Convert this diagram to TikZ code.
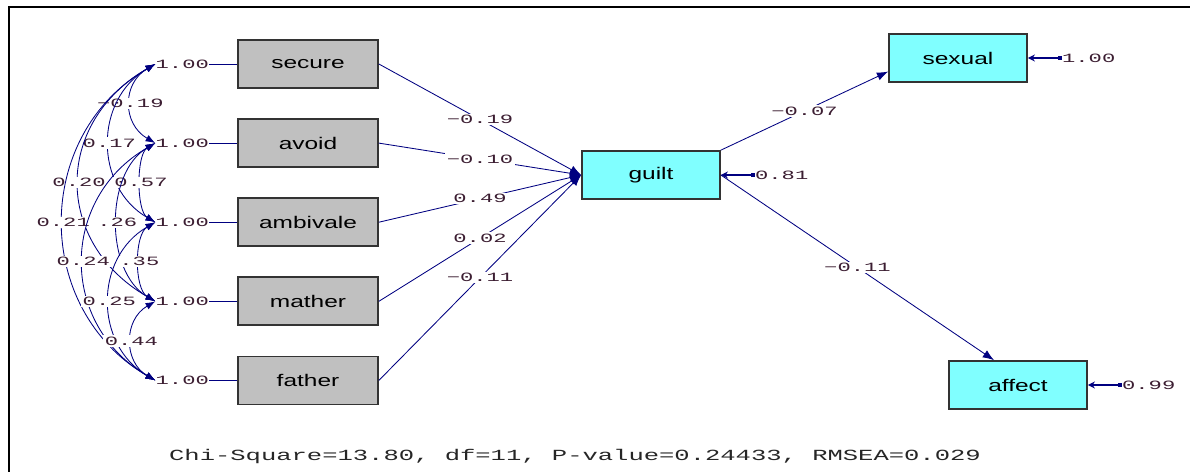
\documentclass[tikz,border=0pt]{standalone}
\usepackage{fontspec}
\setmainfont{Liberation Sans}
\newfontfamily\boxfont[FakeStretch=1.45]{Liberation Sans}
\newfontfamily\numfont[FakeStretch=1.75]{Liberation Mono}
\newfontfamily\fitfont[FakeStretch=1.65]{Liberation Mono}
\usepackage{tikz}
\usetikzlibrary{positioning,arrows.meta}
\definecolor{lisnavy}{RGB}{0,0,128}
\definecolor{boxgray}{RGB}{192,192,192}
\definecolor{boxcyan}{RGB}{128,255,255}
\definecolor{numtext}{RGB}{60,30,50}

\begin{document}
\begin{tikzpicture}[
    x=0.025cm, y=-0.025cm,
    xvar/.style={rectangle, draw=black!80, line width=1.2pt, fill=boxgray, minimum width=3.5cm, minimum height=1.2cm, font=\boxfont\fontsize{12}{13}\selectfont},
    yvar/.style={xvar, fill=boxcyan, minimum width=3.45cm},
    num/.style={inner sep=0pt, text=numtext, font=\numfont\fontsize{9}{10}\selectfont},
    coef/.style={num, fill=white, inner sep=1pt},
    link/.style={draw=lisnavy, line width=0.6pt},
    arr/.style={link, -{Latex[length=8pt,width=6pt]}},
    cov/.style={link, {Latex[length=7pt,width=5pt]}-{Latex[length=7pt,width=5pt]}},
    err/.style={link, line width=0.9pt, {Square[length=3pt,width=3.5pt]}-{Stealth[length=5pt,width=5pt]}}
]
    \useasboundingbox (0,0) rectangle (1190,472);
    \draw[line width=1.4pt] (9,472) -- (9,7) -- (1190,7);

    % exogenous boxes
    \node[xvar] (secure) at (308,64) {secure};
    \node[xvar, below=0.735cm of secure] (avoid) {avoid};
    \node[xvar, below=0.735cm of avoid] (ambivale) {ambivale};
    \node[xvar, below=0.735cm of ambivale] (mather) {mather};
    \node[xvar, below=0.735cm of mather] (father) {father};

    \node[num, left=0.7cm of secure] (vsecure) {1.00};
    \node[num, left=0.7cm of avoid] (vavoid) {1.00};
    \node[num, left=0.7cm of ambivale] (vambivale) {1.00};
    \node[num, left=0.7cm of mather] (vmather) {1.00};
    \node[num, left=0.7cm of father] (vfather) {1.00};

    % endogenous boxes
    \node[yvar] (guilt) at (651,175) {guilt};
    \node[yvar] (sexual) at (958,58) {sexual};
    \node[yvar] (affect) at (1018,385) {affect};

    \node[num, right=0.85cm of guilt] (eguilt) {0.81};
    \node[num, right=0.85cm of sexual] (esexual) {1.00};
    \node[num, right=0.85cm of affect] (eaffect) {0.99};

    \node[font=\fitfont\fontsize{11}{12}\selectfont, text=black!85] (fit) at (575,456) {Chi-Square=13.80, df=11, P-value=0.24433, RMSEA=0.029};

    \draw[link] (vsecure) -- (secure);
    \draw[link] (vavoid) -- (avoid);
    \draw[link] (vambivale) -- (ambivale);
    \draw[link] (vmather) -- (mather);
    \draw[link] (vfather) -- (father);

    % covariances
    \draw[cov] (vsecure.west) to[bend right=60, looseness=1.25] node[coef] {−0.19} (vavoid.west);
    \draw[cov] (vsecure.west) to[bend right=60, looseness=1.15] node[coef] {0.17} (vambivale.west);
    \draw[cov] (vsecure.west) to[bend right=60, looseness=1.27] node[coef] {0.20} (vmather.west);
    \draw[cov] (vsecure.west) to[bend right=60, looseness=1.15] node[coef] {0.21} (vfather.west);
    \draw[cov] (vavoid.west) to[bend right=60, looseness=0.72] node[coef] {0.57} (vambivale.west);
    \draw[cov] (vavoid.west) to[bend right=60, looseness=0.95] node[coef] {.26} (vmather.west);
    \draw[cov] (vavoid.west) to[bend right=60, looseness=1.2] node[coef] {0.24} (vfather.west);
    \draw[cov] (vambivale.west) to[bend right=60, looseness=0.8] node[coef] {.35} (vmather.west);
    \draw[cov] (vambivale.west) to[bend right=60, looseness=1.15] node[coef] {0.25} (vfather.west);
    \draw[cov] (vmather.west) to[bend right=60, looseness=1.2] node[coef] {0.44} (vfather.west);

    % paths
    \draw[arr] (secure.east) -- node[coef] {−0.19} (guilt.west);
    \draw[arr] (avoid.east) -- node[coef] {−0.10} (guilt.west);
    \draw[arr] (ambivale.east) -- node[coef] {0.49} (guilt.west);
    \draw[arr] (mather.east) -- node[coef] {0.02} (guilt.west);
    \draw[arr] (father.east) -- node[coef] {−0.11} (guilt.west);
    \draw[arr] (guilt.north east) -- node[coef] {−0.07} (sexual.191);
    \draw[arr] (guilt.east) -- node[coef] {−0.11} (affect.134);

    % error terms
    \draw[err] (eguilt.west) -- (guilt.east);
    \draw[err] (esexual.west) -- (sexual.east);
    \draw[err] (eaffect.west) -- (affect.east);
\end{tikzpicture}
\end{document}
